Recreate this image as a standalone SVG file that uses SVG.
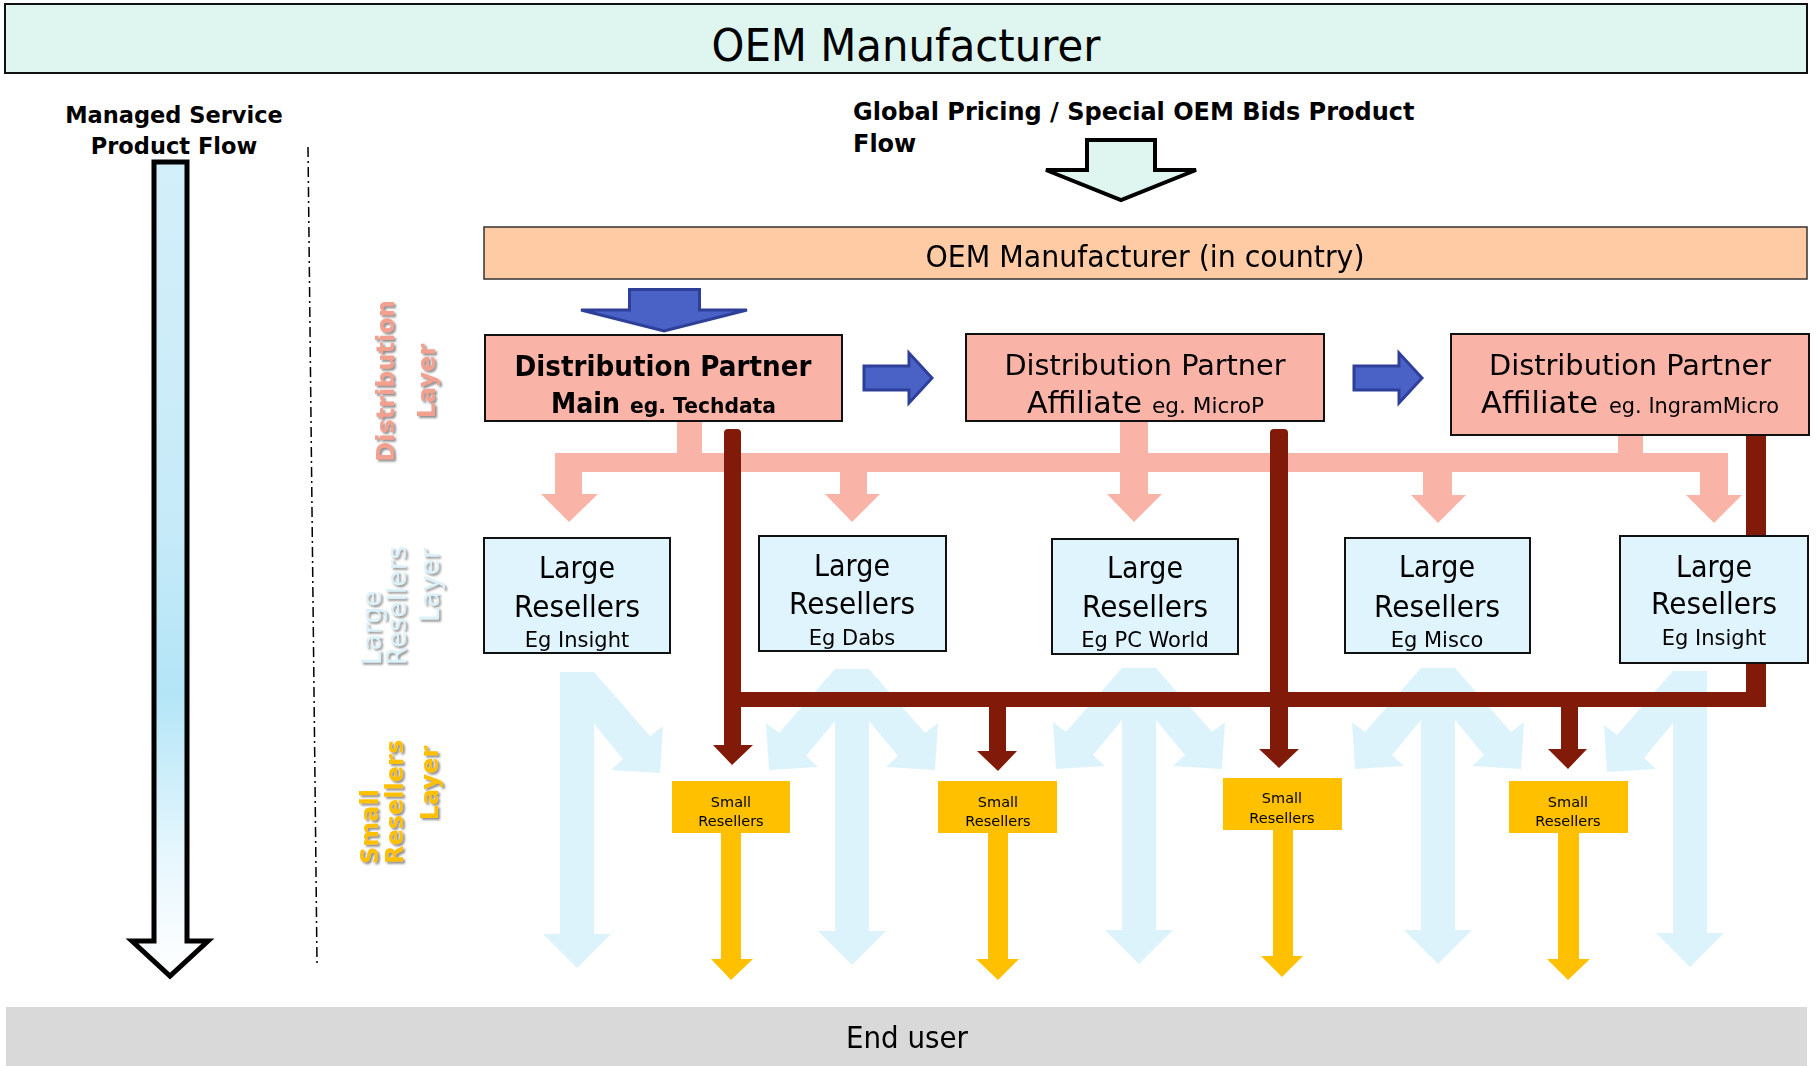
<svg xmlns="http://www.w3.org/2000/svg" xmlns:xlink="http://www.w3.org/1999/xlink" width="1816" height="1066" viewBox="0 0 1816 1066">
<style>
text{font-family:"DejaVu Sans","Liberation Sans",sans-serif;fill:#000}
.b{font-weight:bold}
.dist{fill:#f9b3a7;stroke:#111;stroke-width:2}
.lr{fill:#dff4fc;stroke:#111;stroke-width:2}
.sr{fill:#ffc000}
.pink{fill:#f9b3a7}
.maroon{fill:#821a09}
.yel{fill:#ffc000}
.lb{fill:#ddf3fc}
.blue{fill:#4a62c6;stroke:#2e3f9a;stroke-width:3;stroke-linejoin:miter}
.lbl{font-size:30px}
.eg{font-size:21px}
.sm{font-size:14.5px}
</style>
<defs>
<linearGradient id="g1" x1="0" y1="0" x2="0" y2="1">
<stop offset="0" stop-color="#d3eff9"/>
<stop offset="0.45" stop-color="#c6eaf8"/>
<stop offset="0.65" stop-color="#b3e5f7"/>
<stop offset="0.85" stop-color="#e6f6fd"/>
<stop offset="1" stop-color="#ffffff"/>
</linearGradient>
<filter id="sh" x="-20%" y="-20%" width="140%" height="140%">
<feDropShadow dx="2" dy="2" stdDeviation="0.8" flood-color="#7a7a7a" flood-opacity="0.85"/>
</filter>
<polygon id="vArr" points="-17,0 17,0 17,262 34,262 0,296 -34,262 -17,262"/>
<polygon id="dArr" points="12,0 17,0 73,64 86,54 83,101 34,98 46,87 17,52 12,52"/>
</defs>

<g id="top-oem">
<rect x="5" y="4" width="1802" height="69" fill="#dff5ef" stroke="#111" stroke-width="2"/>
<text x="906" y="61" font-size="45" text-anchor="middle" textLength="389" lengthAdjust="spacingAndGlyphs">OEM Manufacturer</text>
</g>

<g id="managed-flow">
<text class="b" x="174" y="123" font-size="22.5" text-anchor="middle">Managed Service</text>
<text class="b" x="174" y="154" font-size="22.5" text-anchor="middle">Product Flow</text>
<path d="M154,162 L187,162 L187,941 L208,941 L170,976 L132,941 L154,941 Z" fill="url(#g1)" stroke="#000" stroke-width="5"/>
</g>

<line id="divider" x1="308" y1="147" x2="317" y2="963" stroke="#000" stroke-width="1.5" stroke-dasharray="10 4 2 4"/>

<g id="global-flow">
<text class="b" x="853" y="120" font-size="24">Global Pricing / Special OEM Bids Product</text>
<text class="b" x="853" y="152" font-size="24">Flow</text>
<path d="M1087,140 L1155,140 L1155,170 L1196,170 L1121,200 L1046,170 L1087,170 Z" fill="#dff5ef" stroke="#000" stroke-width="4"/>
</g>

<g id="layer-labels" filter="url(#sh)">
<text class="b" font-size="24" style="fill:#f3a090" text-anchor="middle" transform="translate(394,381) rotate(-90)">Distribution</text>
<text class="b" font-size="24" style="fill:#f3a090" text-anchor="middle" transform="translate(435,381) rotate(-90)">Layer</text>
<text font-size="26.5" style="fill:#dbf2fb" transform="translate(381,665) rotate(-90)">Large</text>
<text font-size="26.5" style="fill:#dbf2fb" transform="translate(406,665) rotate(-90)">Resellers</text>
<text font-size="26.5" style="fill:#dbf2fb" text-anchor="middle" transform="translate(439,585) rotate(-90)">Layer</text>
<text class="b" font-size="24" style="fill:#ffc000" transform="translate(377.5,864) rotate(-90)">Small</text>
<text class="b" font-size="24" style="fill:#ffc000" transform="translate(402.5,864) rotate(-90)">Resellers</text>
<text class="b" font-size="24" style="fill:#ffc000" text-anchor="middle" transform="translate(437.5,783) rotate(-90)">Layer</text>
</g>

<g id="connectors">
<g id="light-blue-flows" class="lb">
<use href="#vArr" transform="translate(577,672)"/>
<use href="#dArr" transform="translate(577,672)"/>
<use href="#vArr" transform="translate(852,669)"/>
<use href="#dArr" transform="translate(852,669)"/>
<use href="#dArr" transform="translate(852,669) scale(-1,1)"/>
<use href="#vArr" transform="translate(1139,668)"/>
<use href="#dArr" transform="translate(1139,668)"/>
<use href="#dArr" transform="translate(1139,668) scale(-1,1)"/>
<use href="#vArr" transform="translate(1438,668)"/>
<use href="#dArr" transform="translate(1438,668)"/>
<use href="#dArr" transform="translate(1438,668) scale(-1,1)"/>
<use href="#vArr" transform="translate(1690,671)"/>
<use href="#dArr" transform="translate(1690,671) scale(-1,1)"/>
</g>
<g id="blue-arrows" class="blue">
<path d="M629.5,289.5 L699.5,289.5 L699.5,310 L747,310 L664,331 L581,310 L629.5,310 Z"/>
<path d="M864,366 L909,366 L909,353 L932,378 L909,403 L909,390 L864,390 Z"/>
<path d="M1354,366 L1399,366 L1399,353 L1422,378 L1399,403 L1399,390 L1354,390 Z"/>
</g>
<g id="pink-flows" class="pink">
<rect x="677" y="422" width="25" height="50"/>
<rect x="1618" y="433" width="25" height="39"/>
<rect x="555" y="453" width="1173" height="19"/>
<path d="M555,453 L582,453 L582,494 L598,494 L569,522 L541,494 L555,494 Z"/>
<path d="M840,470 L867,470 L867,494 L880,494 L852,522 L825,494 L840,494 Z"/>
<path d="M1120,422 L1148,422 L1148,494 L1162,494 L1134,522 L1107,494 L1120,494 Z"/>
<path d="M1423,470 L1452,470 L1452,495 L1466,495 L1438,523 L1411,495 L1423,495 Z"/>
<path d="M1700,453 L1728,453 L1728,495 L1742,495 L1714,523 L1686,495 L1700,495 Z"/>
</g>
<g id="maroon-flows" class="maroon">
<path d="M724,433 Q724,429 728,429 L737,429 Q741,429 741,433 L741,745 L753,745 L732,765 L713,745 L724,745 Z"/>
<path d="M1270,433 Q1270,429 1274,429 L1284,429 Q1288,429 1288,433 L1288,749 L1299,749 L1279,768 L1259,749 L1270,749 Z"/>
<path d="M1746,434 Q1746,430 1750,430 L1762,430 Q1766,430 1766,434 L1766,707 L1746,707 Z"/>
<rect x="724" y="692" width="1042" height="15"/>
<path d="M989,705 L1006,705 L1006,751 L1017,751 L998,771 L977,751 L989,751 Z"/>
<path d="M1561,705 L1578,705 L1578,749 L1587,749 L1568,769 L1548,749 L1561,749 Z"/>
</g>
<g id="yellow-flows" class="yel">
<path d="M721,832 L741,832 L741,959 L753,959 L731,980 L711,959 L721,959 Z"/>
<path d="M988,832 L1008,832 L1008,959 L1019,959 L998,980 L976,959 L988,959 Z"/>
<path d="M1273,829 L1293,829 L1293,956 L1303,956 L1282,977 L1261,956 L1273,956 Z"/>
<path d="M1558,832 L1579,832 L1579,959 L1590,959 L1568,980 L1547,959 L1558,959 Z"/>
</g>
</g>

<g id="oem-in-country">
<rect x="484" y="227" width="1323" height="52" fill="#ffcba4" stroke="#333" stroke-width="1.5"/>
<text x="1145" y="267" font-size="30" text-anchor="middle" textLength="439" lengthAdjust="spacingAndGlyphs">OEM Manufacturer (in country)</text>
</g>

<g id="dist-main">
<rect class="dist" x="485" y="335" width="357" height="86"/>
<text class="b" x="663" y="376" font-size="29" text-anchor="middle" textLength="297" lengthAdjust="spacingAndGlyphs">Distribution Partner</text>
<text class="b" x="551" y="413" font-size="29" textLength="69" lengthAdjust="spacingAndGlyphs">Main</text>
<text class="b" x="630" y="413" font-size="22" textLength="146" lengthAdjust="spacingAndGlyphs">eg. Techdata</text>
</g>

<g id="dist-affiliate-1">
<rect class="dist" x="966" y="334" width="358" height="87"/>
<text x="1145" y="375" font-size="29" text-anchor="middle" textLength="281" lengthAdjust="spacingAndGlyphs">Distribution Partner</text>
<text x="1027" y="413" font-size="30" textLength="115" lengthAdjust="spacingAndGlyphs">Affiliate</text>
<text x="1152" y="413" font-size="21.5" textLength="112" lengthAdjust="spacingAndGlyphs">eg. MicroP</text>
</g>

<g id="dist-affiliate-2">
<rect class="dist" x="1451" y="334" width="358" height="101"/>
<text x="1630" y="375" font-size="29" text-anchor="middle" textLength="282" lengthAdjust="spacingAndGlyphs">Distribution Partner</text>
<text x="1481" y="413" font-size="30.5" textLength="117" lengthAdjust="spacingAndGlyphs">Affiliate</text>
<text x="1609" y="413" font-size="21" textLength="170" lengthAdjust="spacingAndGlyphs">eg. IngramMicro</text>
</g>

<g id="lr-1">
<rect class="lr" x="484" y="538" width="186" height="115"/>
<text class="lbl" x="577" y="578" text-anchor="middle" textLength="76" lengthAdjust="spacingAndGlyphs">Large</text>
<text class="lbl" x="577" y="617" text-anchor="middle" textLength="126" lengthAdjust="spacingAndGlyphs">Resellers</text>
<text class="eg" x="577" y="647" text-anchor="middle">Eg Insight</text>
</g>
<g id="lr-2">
<rect class="lr" x="759" y="536" width="187" height="115"/>
<text class="lbl" x="852" y="576" text-anchor="middle" textLength="76" lengthAdjust="spacingAndGlyphs">Large</text>
<text class="lbl" x="852" y="614" text-anchor="middle" textLength="126" lengthAdjust="spacingAndGlyphs">Resellers</text>
<text class="eg" x="852" y="645" text-anchor="middle">Eg Dabs</text>
</g>
<g id="lr-3">
<rect class="lr" x="1052" y="539" width="186" height="115"/>
<text class="lbl" x="1145" y="578" text-anchor="middle" textLength="76" lengthAdjust="spacingAndGlyphs">Large</text>
<text class="lbl" x="1145" y="617" text-anchor="middle" textLength="126" lengthAdjust="spacingAndGlyphs">Resellers</text>
<text class="eg" x="1145" y="647" text-anchor="middle">Eg PC World</text>
</g>
<g id="lr-4">
<rect class="lr" x="1345" y="538" width="185" height="115"/>
<text class="lbl" x="1437" y="577" text-anchor="middle" textLength="76" lengthAdjust="spacingAndGlyphs">Large</text>
<text class="lbl" x="1437" y="617" text-anchor="middle" textLength="126" lengthAdjust="spacingAndGlyphs">Resellers</text>
<text class="eg" x="1437" y="647" text-anchor="middle">Eg Misco</text>
</g>
<g id="lr-5">
<rect class="lr" x="1620" y="536" width="188" height="127"/>
<text class="lbl" x="1714" y="577" text-anchor="middle" textLength="76" lengthAdjust="spacingAndGlyphs">Large</text>
<text class="lbl" x="1714" y="614" text-anchor="middle" textLength="126" lengthAdjust="spacingAndGlyphs">Resellers</text>
<text class="eg" x="1714" y="645" text-anchor="middle">Eg Insight</text>
</g>

<g id="sr-1">
<rect class="sr" x="672" y="781" width="118" height="52"/>
<text class="sm" x="731" y="807" text-anchor="middle">Small</text>
<text class="sm" x="731" y="826" text-anchor="middle">Resellers</text>
</g>
<g id="sr-2">
<rect class="sr" x="938" y="781" width="119" height="52"/>
<text class="sm" x="998" y="807" text-anchor="middle">Small</text>
<text class="sm" x="998" y="826" text-anchor="middle">Resellers</text>
</g>
<g id="sr-3">
<rect class="sr" x="1223" y="778" width="119" height="52"/>
<text class="sm" x="1282" y="803" text-anchor="middle">Small</text>
<text class="sm" x="1282" y="823" text-anchor="middle">Resellers</text>
</g>
<g id="sr-4">
<rect class="sr" x="1509" y="781" width="119" height="52"/>
<text class="sm" x="1568" y="807" text-anchor="middle">Small</text>
<text class="sm" x="1568" y="826" text-anchor="middle">Resellers</text>
</g>

<g id="end-user">
<rect x="6" y="1007" width="1801" height="59" fill="#d9d9d9"/>
<text x="907" y="1048" font-size="30" text-anchor="middle" textLength="122" lengthAdjust="spacingAndGlyphs">End user</text>
</g>
</svg>
